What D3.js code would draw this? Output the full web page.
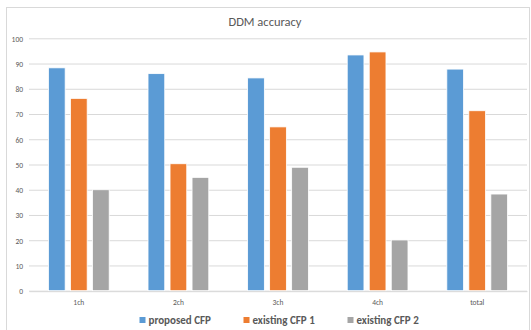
<!DOCTYPE html>
<html>
<head>
<meta charset="utf-8">
<script src="https://cdn.jsdelivr.net/npm/d3@7"></script>
<style>
  body { margin: 0; background: #fff; }
  svg { font-family: Calibri, Carlito, "Open Sans", sans-serif; }
</style>
</head>
<body>
<div id="vis"></div>
<script>
const categories = ['1ch', '2ch', '3ch', '4ch', 'total'];
const seriesNames = ['proposed CFP', 'existing CFP 1', 'existing CFP 2'];
const proposed = [88.3, 86.0, 84.3, 93.4, 87.8];
const existing1 = [76.2, 50.3, 64.9, 94.6, 71.3];
const existing2 = [40.0, 44.9, 48.9, 20.1, 38.3];
const yTicks = [0, 10, 20, 30, 40, 50, 60, 70, 80, 90, 100];
const colors = ['#5B9BD5', '#ED7D31', '#A5A5A5'];

const series = [proposed, existing1, existing2];

const width = 531;
const height = 330;
const margin = { top: 38.3, left: 29, right: 4, bottom: 39.3 };

const svg = d3.select('#vis')
              .append('svg')
                .attr('width', width)
                .attr('height', height);

// chart frame
svg.append('rect')
  .attr('x', 6.5)
  .attr('y', 7.5)
  .attr('width', 523)
  .attr('height', 330)
  .attr('fill', '#fff')
  .attr('stroke', '#D9D9D9');

svg.append('text')
  .attr('x', 265)
  .attr('y', 26)
  .attr('text-anchor', 'middle')
  .attr('font-size', 12.5)
  .attr('fill', '#595959')
  .text('DDM accuracy');

const y = d3.scaleLinear()
            .domain([0, 100])
            .range([height - margin.bottom, margin.top]);

const x0 = d3.scaleBand()
             .domain(categories)
             .range([margin.left, width - margin.right])
             .paddingInner(0.39)
             .paddingOuter(0.195);

const x1 = d3.scaleBand()
             .domain(d3.range(series.length))
             .range([0, x0.bandwidth()])
             .paddingInner(0.24);

// gridlines
svg.append('g')
  .selectAll('line')
  .data(yTicks)
  .join('line')
    .attr('x1', margin.left)
    .attr('x2', width - margin.right)
    .attr('y1', d => y(d) + 0.5)
    .attr('y2', d => y(d) + 0.5)
    .attr('stroke', '#D9D9D9')
    .attr('stroke-width', 1);

const yAxis = d3.axisLeft(y).tickValues(yTicks).tickSize(0).tickPadding(6);
const gy = svg.append('g')
  .attr('transform', 'translate(' + margin.left + ',0.5)')
  .call(yAxis);
gy.select('.domain').remove();
gy.selectAll('text')
  .attr('font-size', 7.5)
  .attr('fill', '#595959')
  .attr('font-family', 'Calibri, Carlito, "Open Sans", sans-serif');

// bars
const groups = svg.append('g')
  .selectAll('g')
  .data(categories)
  .join('g')
    .attr('transform', d => 'translate(' + x0(d) + ',0)');

groups.selectAll('rect')
  .data((c, ci) => series.map((s, si) => ({ si: si, v: s[ci] })))
  .join('rect')
    .attr('x', d => x1(d.si))
    .attr('y', d => y(d.v))
    .attr('width', x1.bandwidth())
    .attr('height', d => y(0) - y(d.v))
    .attr('fill', d => colors[d.si])
    .attr('stroke', '#fff')
    .attr('stroke-width', 0.8);

const xAxis = d3.axisBottom(x0).tickSize(0).tickPadding(8);
const gx = svg.append('g')
  .attr('transform', 'translate(0,' + (y(0) + 0.5) + ')')
  .call(xAxis);
gx.select('.domain').attr('stroke', '#D9D9D9');
gx.selectAll('text')
  .attr('font-size', 7.5)
  .attr('fill', '#595959')
  .attr('font-family', 'Calibri, Carlito, "Open Sans", sans-serif');

// legend
const legendX = [139.5, 243.5, 347.5];
const legend = svg.append('g')
  .selectAll('g')
  .data(seriesNames)
  .join('g')
    .attr('transform', (d, i) => 'translate(' + legendX[i] + ',317)');

legend.append('rect')
  .attr('width', 6)
  .attr('height', 6)
  .attr('fill', (d, i) => colors[i]);

legend.append('text')
  .attr('x', 9)
  .attr('y', 6.5)
  .attr('font-size', 11)
  .attr('font-weight', 'bold')
  .attr('fill', '#595959')
  .text(d => d);
</script>
</body>
</html>
